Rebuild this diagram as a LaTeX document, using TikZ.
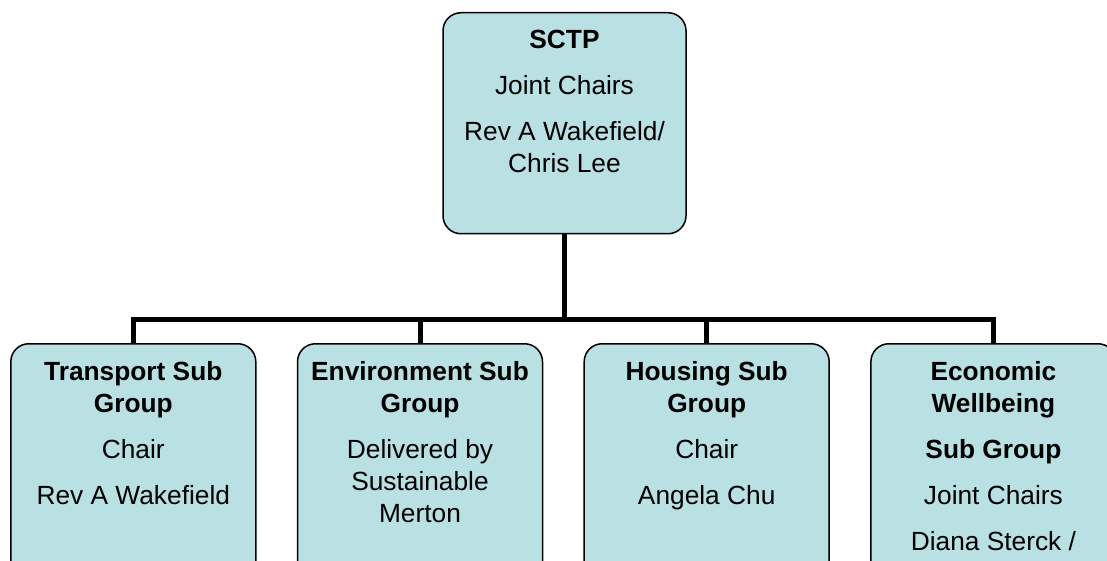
\documentclass[tikz,border=0pt]{standalone}
\usepackage{fontspec}
\setmainfont{Liberation Sans}
\usetikzlibrary{positioning}
\definecolor{boxfill}{RGB}{185,224,227}

\begin{document}
\begin{tikzpicture}[x=0.5pt,y=-0.5pt,
    orgbox/.style={draw=black,line width=0.75pt,fill=boxfill,
      rounded corners=9pt,inner sep=0pt},
    topbox/.style={orgbox,minimum width=121.5pt,minimum height=110.5pt},
    subbox/.style={orgbox,minimum width=122.5pt,minimum height=130pt},
    boxtext/.style={anchor=north,align=center,inner sep=0pt,
      font=\fontsize{13.15}{16}\selectfont},
    link/.style={line width=2.5pt}]
  \useasboundingbox (0,0) rectangle (1107,561);
  \clip (0,0) rectangle (1107,561);

  % partnership board
  \node[topbox,anchor=north] (sctp) at (564.5,12) {};
  \node[boxtext] (sctptxt) at ([yshift=-9pt]sctp.north)
    {\textbf{SCTP}\\[7pt] Joint Chairs\\[7pt] Rev A Wakefield/\\Chris Lee};

  % sub groups
  \node[subbox,anchor=north] (trans) at (133.3,343) {};
  \node[subbox,right=20.1pt of trans] (env) {};
  \node[subbox,right=20.1pt of env] (hous) {};
  \node[subbox,right=20.1pt of hous] (econ) {};

  \node[boxtext] (transtxt) at ([yshift=-9pt]trans.north)
    {\textbf{Transport Sub}\\\textbf{Group}\\[7pt] Chair\\[7pt] Rev A Wakefield};
  \node[boxtext] (envtxt) at ([yshift=-9pt]env.north)
    {\textbf{Environment Sub}\\\textbf{Group}\\[7pt] Delivered by\\Sustainable\\Merton};
  \node[boxtext] (houstxt) at ([yshift=-9pt]hous.north)
    {\textbf{Housing Sub}\\\textbf{Group}\\[7pt] Chair\\[7pt] Angela Chu};
  \node[boxtext] (econtxt) at ([yshift=-9pt]econ.north)
    {\textbf{Economic}\\\textbf{Wellbeing}\\[7pt] \textbf{Sub Group}\\[7pt]
     Joint Chairs\\[7pt] Diana Sterck /};

  % connectors
  \coordinate (bar) at (0,319);
  \draw[link] (sctp.south) -- (sctp.south |- bar);
  \draw[link] (trans.north) |- (bar -| econ.north) -- (econ.north);
  \draw[link] (env.north) -- (env.north |- bar);
  \draw[link] (hous.north) -- (hous.north |- bar);
\end{tikzpicture}
\end{document}
